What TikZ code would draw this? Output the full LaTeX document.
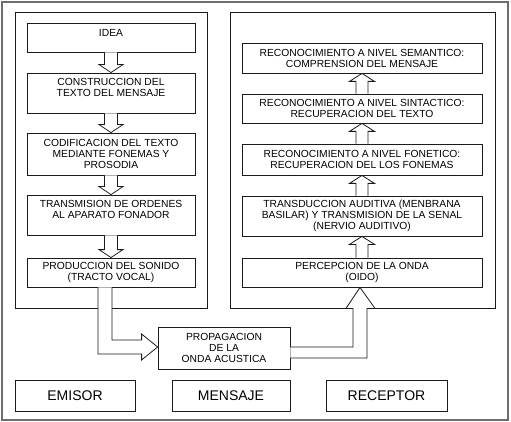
\documentclass[tikz,border=0pt]{standalone}
\usepackage{fontspec}
\setmainfont{Liberation Sans}
\usepackage{xcolor}
\usepackage{tikz}
\usetikzlibrary{positioning, calc}
\definecolor{trazo}{HTML}{1A1A1A}
\definecolor{marco}{HTML}{6E6E6E}
\tikzset{
  etapa/.style={draw=trazo, fill=white, line width=0.8pt, align=center, inner sep=1pt,
                font=\fontsize{10.3}{11}\selectfont},
  izq/.style={etapa, minimum width=168pt},
  der/.style={etapa, minimum width=240pt},
  rotulo/.style={draw=trazo, line width=0.8pt, minimum height=31pt, inner sep=1pt,
                 font=\fontsize{14}{16}\selectfont},
  bloque/.style={draw=trazo, fill=white, line width=0.8pt, line join=miter},
  recuadro/.style={draw=trazo, line width=0.8pt},
}
\begin{document}
\begin{tikzpicture}[x=1pt, y=-1pt]
  \useasboundingbox (0,0) rectangle (511,422);
  \draw[marco, line width=1.2pt] (2,2) rectangle (508,420);
  \draw[recuadro] (15,12) rectangle (207,308);
  \draw[recuadro] (230,12) rectangle (495,308);

  \node[izq, minimum height=29pt, text depth=9pt] (idea) at (111,37.5) {IDEA};
  \node[izq, minimum height=40pt, text depth=12pt] (construccion) at (111,93)
    {CONSTRUCCION DEL\\TEXTO DEL MENSAJE};
  \node[izq, minimum height=42pt] (codificacion) at (111,154)
    {CODIFICACION DEL TEXTO\\MEDIANTE FONEMAS Y\\PROSODIA};
  \node[izq, minimum height=40pt, text depth=12pt] (transmision) at (111,215)
    {TRANSMISION DE ORDENES\\AL APARATO FONADOR};
  \node[izq, minimum height=29pt] (produccion) at (111,272.5)
    {PRODUCCION DEL SONIDO\\(TRACTO VOCAL)};

  \node[der, minimum height=30pt] (semantico) at (362,58)
    {RECONOCIMIENTO A NIVEL SEMANTICO:\\COMPRENSION DEL MENSAJE};
  \node[der, minimum height=29pt] (sintactico) at (362,108.5)
    {RECONOCIMIENTO A NIVEL SINTACTICO:\\RECUPERACION DEL TEXTO};
  \node[der, minimum height=31pt] (fonetico) at (362,159.5)
    {RECONOCIMIENTO A NIVEL FONETICO:\\RECUPERACION DEL LOS FONEMAS};
  \node[der, minimum height=40pt] (transduccion) at (362,216)
    {TRANSDUCCION AUDITIVA (MENBRANA\\BASILAR) Y TRANSMISION DE LA SENAL\\(NERVIO AUDITIVO)};
  \node[der, minimum height=29pt] (percepcion) at (362,272.5)
    {PERCEPCION DE LA ONDA\\(OIDO)};

  \node[etapa, minimum width=132pt, minimum height=42pt] (propagacion) at (224,348)
    {PROPAGACION\\DE LA\\ONDA ACUSTICA};

  \node[rotulo, minimum width=120pt] (emisor) at (75,395.5) {EMISOR};
  \node[rotulo, minimum width=118pt] (mensaje) at (231,395.5) {MENSAJE};
  \node[rotulo, minimum width=121pt] (receptor) at (386.5,395.5) {RECEPTOR};

  \foreach \a/\b in {idea/construccion, construccion/codificacion,
                     codificacion/transmision, transmision/produccion}
    \draw[bloque] ($(\a.south)+(-6.5,0)$) -- ($(\b.north)+(-6.5,-8)$) -- ($(\b.north)+(-12,-8)$)
      -- (\b.north) -- ($(\b.north)+(12,-8)$) -- ($(\b.north)+(6.5,-8)$) -- ($(\a.south)+(6.5,0)$);
  \foreach \a/\b in {percepcion/transduccion, transduccion/fonetico,
                     fonetico/sintactico, sintactico/semantico}
    \draw[bloque] ($(\a.north)+(-6,0)$) -- ($(\b.south)+(-6,8)$) -- ($(\b.south)+(-12.5,8)$)
      -- (\b.south) -- ($(\b.south)+(12.5,8)$) -- ($(\b.south)+(6,8)$) -- ($(\a.north)+(6,0)$);

  \draw[bloque] ($(produccion.south)+(-13,0)$) |- ($(propagacion.west)+(-16,6)$)
    -- ($(propagacion.west)+(-16,12)$) -- ($(propagacion.west)+(0,-1)$)
    -- ($(propagacion.west)+(-16,-14)$) -- ($(propagacion.west)+(-16,-8)$)
    -| ($(produccion.south)+(1,0)$);
  \draw[bloque] ($(propagacion.east)+(0,-1)$) -| ($(percepcion.south)+(-9,21)$)
    -- ($(percepcion.south)+(-16,21)$) -- ($(percepcion.south)+(-2,0)$)
    -- ($(percepcion.south)+(13,21)$) -- ($(percepcion.south)+(5,21)$)
    |- ($(propagacion.east)+(0,10)$);
\end{tikzpicture}
\end{document}
